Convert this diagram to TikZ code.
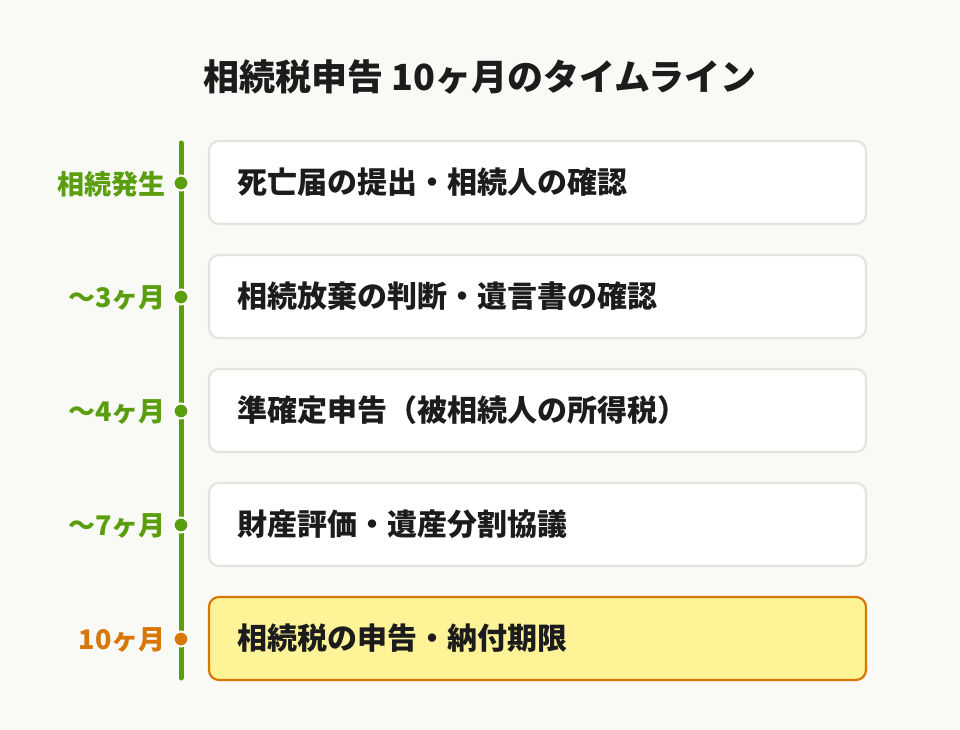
\documentclass[tikz,border=0pt]{standalone}
\usepackage{fontspec}
\newfontfamily\jp{Noto Sans CJK JP}
\definecolor{bgc}{HTML}{F9F9F5}
\definecolor{gr}{HTML}{5A9E0E}
\definecolor{org}{HTML}{D97706}
\definecolor{boxline}{HTML}{E4E4DF}
\definecolor{yel}{HTML}{FEF397}
\definecolor{ink}{HTML}{1C1C1C}
\tikzset{
  card/.style={draw=boxline, line width=2.2pt, fill=white, rounded corners=10pt,
    minimum width=657pt, minimum height=83pt, text width=601pt, inner xsep=28pt,
    align=left, font=\jp\bfseries\fontsize{30}{34}\selectfont, text=ink},
  hicard/.style={card, draw=org, fill=yel},
  lbl/.style={anchor=east, inner sep=0pt, font=\jp\bfseries\fontsize{27}{30}\selectfont, text=gr},
  dot/.style={circle, fill=gr, draw=white, line width=2pt, minimum size=15pt, inner sep=0pt},
}
\begin{document}
\begin{tikzpicture}[x=1pt,y=-1pt]
\useasboundingbox[fill=bgc] (0,0) rectangle (960,730);
\node[font=\jp\bfseries\fontsize{36}{40}\selectfont, text=ink] (title) at (480,77) {相続税申告 10ヶ月のタイムライン};
\coordinate (top) at (181,143);
\coordinate (bot) at (181,678);
\draw[gr, line width=5pt, line cap=round] (top) -- (bot);
\node[card] (b1) at (537.5,182.5) {死亡届の提出・相続人の確認};
\node[card] (b2) at (537.5,296.5) {相続放棄の判断・遺言書の確認};
\node[card] (b3) at (537.5,410.5) {準確定申告（被相続人の所得税）};
\node[card] (b4) at (537.5,524.5) {財産評価・遺産分割協議};
\node[hicard] (b5) at (537.5,638.5) {相続税の申告・納付期限};
\node[dot] (d1) at (181,183) {};
\node[dot] (d2) at (181,297) {};
\node[dot] (d3) at (181,411) {};
\node[dot] (d4) at (181,525) {};
\node[dot, fill=org] (d5) at (181,639) {};
\node[lbl] (l1) at (166,184) {相続発生};
\node[lbl] (l2) at (166,298) {～3ヶ月};
\node[lbl] (l3) at (166,412) {～4ヶ月};
\node[lbl] (l4) at (166,526) {～7ヶ月};
\node[lbl, text=org] (l5) at (166,640) {10ヶ月};
\end{tikzpicture}
\end{document}
